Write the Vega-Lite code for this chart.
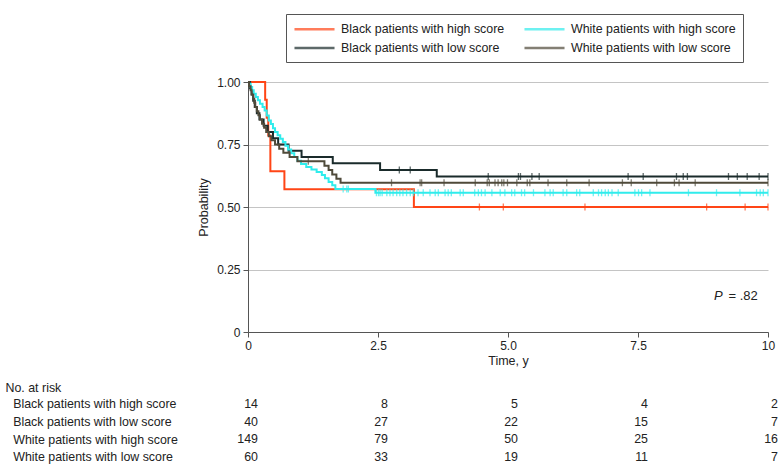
{
  "$schema": "https://vega.github.io/schema/vega-lite/v6.json",
  "padding": {"left": 5, "top": 13, "right": 0, "bottom": 0},
  "config": {
    "font": "Liberation Sans",
    "view": {"stroke": null},
    "axis": {"labelColor": "#222", "titleColor": "#222", "domainColor": "#555", "tickColor": "#555", "titleFontWeight": "normal"}
  },
  "spacing": 14,
  "resolve": {"legend": {"color": "independent"}},
  "datasets": {
    "km": [
      {"g": "Black patients with high score", "t": 0, "p": 1},
      {"g": "Black patients with high score", "t": 0.33, "p": 0.929},
      {"g": "Black patients with high score", "t": 0.36, "p": 0.857},
      {"g": "Black patients with high score", "t": 0.39, "p": 0.786},
      {"g": "Black patients with high score", "t": 0.43, "p": 0.643},
      {"g": "Black patients with high score", "t": 0.70, "p": 0.571},
      {"g": "Black patients with high score", "t": 3.19, "p": 0.5},
      {"g": "Black patients with high score", "t": 10, "p": 0.5},

      {"g": "Black patients with low score", "t": 0, "p": 1},
      {"g": "Black patients with low score", "t": 0.04, "p": 0.975},
      {"g": "Black patients with low score", "t": 0.07, "p": 0.95},
      {"g": "Black patients with low score", "t": 0.10, "p": 0.925},
      {"g": "Black patients with low score", "t": 0.13, "p": 0.9},
      {"g": "Black patients with low score", "t": 0.17, "p": 0.875},
      {"g": "Black patients with low score", "t": 0.22, "p": 0.85},
      {"g": "Black patients with low score", "t": 0.30, "p": 0.825},
      {"g": "Black patients with low score", "t": 0.38, "p": 0.8},
      {"g": "Black patients with low score", "t": 0.48, "p": 0.775},
      {"g": "Black patients with low score", "t": 0.58, "p": 0.75},
      {"g": "Black patients with low score", "t": 0.78, "p": 0.725},
      {"g": "Black patients with low score", "t": 1.03, "p": 0.70},
      {"g": "Black patients with low score", "t": 1.63, "p": 0.675},
      {"g": "Black patients with low score", "t": 2.54, "p": 0.648},
      {"g": "Black patients with low score", "t": 3.63, "p": 0.622},
      {"g": "Black patients with low score", "t": 10, "p": 0.622},

      {"g": "White patients with high score", "t": 0, "p": 1},
      {"g": "White patients with high score", "t": 0.02, "p": 0.993},
      {"g": "White patients with high score", "t": 0.05, "p": 0.98},
      {"g": "White patients with high score", "t": 0.08, "p": 0.967},
      {"g": "White patients with high score", "t": 0.11, "p": 0.953},
      {"g": "White patients with high score", "t": 0.15, "p": 0.94},
      {"g": "White patients with high score", "t": 0.19, "p": 0.927},
      {"g": "White patients with high score", "t": 0.23, "p": 0.913},
      {"g": "White patients with high score", "t": 0.28, "p": 0.9},
      {"g": "White patients with high score", "t": 0.32, "p": 0.886},
      {"g": "White patients with high score", "t": 0.36, "p": 0.866},
      {"g": "White patients with high score", "t": 0.40, "p": 0.846},
      {"g": "White patients with high score", "t": 0.44, "p": 0.832},
      {"g": "White patients with high score", "t": 0.48, "p": 0.815},
      {"g": "White patients with high score", "t": 0.52, "p": 0.80},
      {"g": "White patients with high score", "t": 0.57, "p": 0.787},
      {"g": "White patients with high score", "t": 0.62, "p": 0.773},
      {"g": "White patients with high score", "t": 0.67, "p": 0.76},
      {"g": "White patients with high score", "t": 0.72, "p": 0.745},
      {"g": "White patients with high score", "t": 0.77, "p": 0.73},
      {"g": "White patients with high score", "t": 0.83, "p": 0.715},
      {"g": "White patients with high score", "t": 0.89, "p": 0.70},
      {"g": "White patients with high score", "t": 0.95, "p": 0.685},
      {"g": "White patients with high score", "t": 1.02, "p": 0.672},
      {"g": "White patients with high score", "t": 1.12, "p": 0.66},
      {"g": "White patients with high score", "t": 1.22, "p": 0.65},
      {"g": "White patients with high score", "t": 1.32, "p": 0.64},
      {"g": "White patients with high score", "t": 1.42, "p": 0.628},
      {"g": "White patients with high score", "t": 1.48, "p": 0.615},
      {"g": "White patients with high score", "t": 1.55, "p": 0.60},
      {"g": "White patients with high score", "t": 1.62, "p": 0.587},
      {"g": "White patients with high score", "t": 1.68, "p": 0.572},
      {"g": "White patients with high score", "t": 2.45, "p": 0.557},
      {"g": "White patients with high score", "t": 10, "p": 0.557},

      {"g": "White patients with low score", "t": 0, "p": 1},
      {"g": "White patients with low score", "t": 0.02, "p": 0.983},
      {"g": "White patients with low score", "t": 0.05, "p": 0.967},
      {"g": "White patients with low score", "t": 0.07, "p": 0.95},
      {"g": "White patients with low score", "t": 0.10, "p": 0.933},
      {"g": "White patients with low score", "t": 0.12, "p": 0.917},
      {"g": "White patients with low score", "t": 0.14, "p": 0.90},
      {"g": "White patients with low score", "t": 0.17, "p": 0.883},
      {"g": "White patients with low score", "t": 0.20, "p": 0.867},
      {"g": "White patients with low score", "t": 0.23, "p": 0.85},
      {"g": "White patients with low score", "t": 0.27, "p": 0.833},
      {"g": "White patients with low score", "t": 0.31, "p": 0.817},
      {"g": "White patients with low score", "t": 0.35, "p": 0.80},
      {"g": "White patients with low score", "t": 0.40, "p": 0.783},
      {"g": "White patients with low score", "t": 0.45, "p": 0.767},
      {"g": "White patients with low score", "t": 0.52, "p": 0.75},
      {"g": "White patients with low score", "t": 0.60, "p": 0.733},
      {"g": "White patients with low score", "t": 0.68, "p": 0.717},
      {"g": "White patients with low score", "t": 0.80, "p": 0.70},
      {"g": "White patients with low score", "t": 0.95, "p": 0.683},
      {"g": "White patients with low score", "t": 1.47, "p": 0.665},
      {"g": "White patients with low score", "t": 1.55, "p": 0.648},
      {"g": "White patients with low score", "t": 1.62, "p": 0.630},
      {"g": "White patients with low score", "t": 1.70, "p": 0.613},
      {"g": "White patients with low score", "t": 1.78, "p": 0.597},
      {"g": "White patients with low score", "t": 10, "p": 0.597}
    ],
    "cens": [
      {"g": "Black patients with high score", "t": 4.45, "p": 0.5},
      {"g": "Black patients with high score", "t": 4.91, "p": 0.5},
      {"g": "Black patients with high score", "t": 6.48, "p": 0.5},
      {"g": "Black patients with high score", "t": 8.82, "p": 0.5},
      {"g": "Black patients with high score", "t": 9.56, "p": 0.5},
      {"g": "Black patients with high score", "t": 10, "p": 0.5},

      {"g": "Black patients with low score", "t": 2.91, "p": 0.648},
      {"g": "Black patients with low score", "t": 3.12, "p": 0.648},
      {"g": "Black patients with low score", "t": 4.62, "p": 0.622},
      {"g": "Black patients with low score", "t": 5.20, "p": 0.622},
      {"g": "Black patients with low score", "t": 5.24, "p": 0.622},
      {"g": "Black patients with low score", "t": 5.46, "p": 0.622},
      {"g": "Black patients with low score", "t": 5.60, "p": 0.622},
      {"g": "Black patients with low score", "t": 7.31, "p": 0.622},
      {"g": "Black patients with low score", "t": 7.60, "p": 0.622},
      {"g": "Black patients with low score", "t": 8.24, "p": 0.622},
      {"g": "Black patients with low score", "t": 8.37, "p": 0.622},
      {"g": "Black patients with low score", "t": 8.45, "p": 0.622},
      {"g": "Black patients with low score", "t": 9.24, "p": 0.622},
      {"g": "Black patients with low score", "t": 9.41, "p": 0.622},
      {"g": "Black patients with low score", "t": 9.60, "p": 0.622},
      {"g": "Black patients with low score", "t": 9.83, "p": 0.622},
      {"g": "Black patients with low score", "t": 10, "p": 0.622},

      {"g": "White patients with high score", "t": 1.83, "p": 0.572},
      {"g": "White patients with high score", "t": 1.90, "p": 0.572},
      {"g": "White patients with high score", "t": 1.93, "p": 0.572},
      {"g": "White patients with high score", "t": 2.47, "p": 0.557},
      {"g": "White patients with high score", "t": 2.51, "p": 0.557},
      {"g": "White patients with high score", "t": 2.54, "p": 0.557},
      {"g": "White patients with high score", "t": 2.58, "p": 0.557},
      {"g": "White patients with high score", "t": 2.67, "p": 0.557},
      {"g": "White patients with high score", "t": 2.73, "p": 0.557},
      {"g": "White patients with high score", "t": 2.79, "p": 0.557},
      {"g": "White patients with high score", "t": 2.86, "p": 0.557},
      {"g": "White patients with high score", "t": 2.92, "p": 0.557},
      {"g": "White patients with high score", "t": 2.98, "p": 0.557},
      {"g": "White patients with high score", "t": 3.05, "p": 0.557},
      {"g": "White patients with high score", "t": 3.12, "p": 0.557},
      {"g": "White patients with high score", "t": 3.18, "p": 0.557},
      {"g": "White patients with high score", "t": 3.27, "p": 0.557},
      {"g": "White patients with high score", "t": 3.37, "p": 0.557},
      {"g": "White patients with high score", "t": 3.50, "p": 0.557},
      {"g": "White patients with high score", "t": 3.60, "p": 0.557},
      {"g": "White patients with high score", "t": 3.66, "p": 0.557},
      {"g": "White patients with high score", "t": 3.79, "p": 0.557},
      {"g": "White patients with high score", "t": 3.85, "p": 0.557},
      {"g": "White patients with high score", "t": 3.91, "p": 0.557},
      {"g": "White patients with high score", "t": 4.08, "p": 0.557},
      {"g": "White patients with high score", "t": 4.14, "p": 0.557},
      {"g": "White patients with high score", "t": 4.36, "p": 0.557},
      {"g": "White patients with high score", "t": 4.43, "p": 0.557},
      {"g": "White patients with high score", "t": 4.49, "p": 0.557},
      {"g": "White patients with high score", "t": 4.56, "p": 0.557},
      {"g": "White patients with high score", "t": 4.69, "p": 0.557},
      {"g": "White patients with high score", "t": 4.85, "p": 0.557},
      {"g": "White patients with high score", "t": 4.94, "p": 0.557},
      {"g": "White patients with high score", "t": 5.07, "p": 0.557},
      {"g": "White patients with high score", "t": 5.13, "p": 0.557},
      {"g": "White patients with high score", "t": 5.26, "p": 0.557},
      {"g": "White patients with high score", "t": 5.32, "p": 0.557},
      {"g": "White patients with high score", "t": 5.49, "p": 0.557},
      {"g": "White patients with high score", "t": 5.71, "p": 0.557},
      {"g": "White patients with high score", "t": 5.81, "p": 0.557},
      {"g": "White patients with high score", "t": 5.87, "p": 0.557},
      {"g": "White patients with high score", "t": 6.06, "p": 0.557},
      {"g": "White patients with high score", "t": 6.13, "p": 0.557},
      {"g": "White patients with high score", "t": 6.32, "p": 0.557},
      {"g": "White patients with high score", "t": 6.38, "p": 0.557},
      {"g": "White patients with high score", "t": 6.64, "p": 0.557},
      {"g": "White patients with high score", "t": 6.74, "p": 0.557},
      {"g": "White patients with high score", "t": 6.80, "p": 0.557},
      {"g": "White patients with high score", "t": 6.87, "p": 0.557},
      {"g": "White patients with high score", "t": 6.93, "p": 0.557},
      {"g": "White patients with high score", "t": 7.00, "p": 0.557},
      {"g": "White patients with high score", "t": 7.12, "p": 0.557},
      {"g": "White patients with high score", "t": 7.44, "p": 0.557},
      {"g": "White patients with high score", "t": 7.51, "p": 0.557},
      {"g": "White patients with high score", "t": 7.57, "p": 0.557},
      {"g": "White patients with high score", "t": 7.73, "p": 0.557},
      {"g": "White patients with high score", "t": 8.47, "p": 0.557},
      {"g": "White patients with high score", "t": 9.01, "p": 0.557},
      {"g": "White patients with high score", "t": 9.46, "p": 0.557},
      {"g": "White patients with high score", "t": 9.78, "p": 0.557},
      {"g": "White patients with high score", "t": 9.85, "p": 0.557},
      {"g": "White patients with high score", "t": 9.91, "p": 0.557},
      {"g": "White patients with high score", "t": 10, "p": 0.557},

      {"g": "White patients with low score", "t": 1.16, "p": 0.683},
      {"g": "White patients with low score", "t": 2.76, "p": 0.597},
      {"g": "White patients with low score", "t": 3.31, "p": 0.597},
      {"g": "White patients with low score", "t": 3.34, "p": 0.597},
      {"g": "White patients with low score", "t": 3.77, "p": 0.597},
      {"g": "White patients with low score", "t": 4.37, "p": 0.597},
      {"g": "White patients with low score", "t": 4.60, "p": 0.597},
      {"g": "White patients with low score", "t": 4.64, "p": 0.597},
      {"g": "White patients with low score", "t": 4.75, "p": 0.597},
      {"g": "White patients with low score", "t": 4.81, "p": 0.597},
      {"g": "White patients with low score", "t": 4.88, "p": 0.597},
      {"g": "White patients with low score", "t": 4.92, "p": 0.597},
      {"g": "White patients with low score", "t": 4.99, "p": 0.597},
      {"g": "White patients with low score", "t": 5.17, "p": 0.597},
      {"g": "White patients with low score", "t": 5.37, "p": 0.597},
      {"g": "White patients with low score", "t": 5.42, "p": 0.597},
      {"g": "White patients with low score", "t": 5.77, "p": 0.597},
      {"g": "White patients with low score", "t": 6.13, "p": 0.597},
      {"g": "White patients with low score", "t": 6.56, "p": 0.597},
      {"g": "White patients with low score", "t": 7.20, "p": 0.597},
      {"g": "White patients with low score", "t": 7.37, "p": 0.597},
      {"g": "White patients with low score", "t": 7.86, "p": 0.597},
      {"g": "White patients with low score", "t": 8.20, "p": 0.597},
      {"g": "White patients with low score", "t": 8.29, "p": 0.597},
      {"g": "White patients with low score", "t": 8.60, "p": 0.597},
      {"g": "White patients with low score", "t": 10, "p": 0.597}
    ],
    "risk": [
      {"g": "Black patients with high score", "t": 0, "n": 14},
      {"g": "Black patients with high score", "t": 2.5, "n": 8},
      {"g": "Black patients with high score", "t": 5, "n": 5},
      {"g": "Black patients with high score", "t": 7.5, "n": 4},
      {"g": "Black patients with high score", "t": 10, "n": 2},
      {"g": "Black patients with low score", "t": 0, "n": 40},
      {"g": "Black patients with low score", "t": 2.5, "n": 27},
      {"g": "Black patients with low score", "t": 5, "n": 22},
      {"g": "Black patients with low score", "t": 7.5, "n": 15},
      {"g": "Black patients with low score", "t": 10, "n": 7},
      {"g": "White patients with high score", "t": 0, "n": 149},
      {"g": "White patients with high score", "t": 2.5, "n": 79},
      {"g": "White patients with high score", "t": 5, "n": 50},
      {"g": "White patients with high score", "t": 7.5, "n": 25},
      {"g": "White patients with high score", "t": 10, "n": 16},
      {"g": "White patients with low score", "t": 0, "n": 60},
      {"g": "White patients with low score", "t": 2.5, "n": 33},
      {"g": "White patients with low score", "t": 5, "n": 19},
      {"g": "White patients with low score", "t": 7.5, "n": 11},
      {"g": "White patients with low score", "t": 10, "n": 7}
    ]
  },
  "vconcat": [
    {
      "width": 520,
      "height": 250,
      "layer": [
        {
          "data": {"name": "km"},
          "mark": {"type": "line", "interpolate": "step-after", "strokeWidth": 2},
          "encoding": {
            "x": {"field": "t", "type": "quantitative", "scale": {"domain": [0, 10], "nice": false},
              "axis": {"values": [0, 2.5, 5, 7.5, 10], "labelExpr": "datum.value == 0 ? '0' : datum.value == 10 ? '10' : format(datum.value, '.1f')",
                "grid": false, "tickSize": 5, "labelPadding": 3, "labelFontSize": 12, "labelFlush": false,
                "title": "Time, y", "titleFontSize": 12.5, "titlePadding": 3}},
            "y": {"field": "p", "type": "quantitative", "scale": {"domain": [0, 1], "nice": false},
              "axis": {"values": [0, 0.25, 0.5, 0.75, 1], "labelExpr": "datum.value == 0 ? '0' : format(datum.value, '.2f')",
                "grid": true, "gridColor": "#c4c4c4", "tickSize": 5, "labelPadding": 3, "labelFontSize": 12, "labelFlush": false,
                "title": "Probability", "titleFontSize": 12.5, "titleX": -45, "titleY": 125, "titleAngle": -90,
                "titleAlign": "center", "titleBaseline": "middle", "minExtent": 243}},
            "color": {"field": "g", "type": "nominal",
              "scale": {"domain": ["Black patients with high score", "Black patients with low score", "White patients with high score", "White patients with low score"],
                "range": ["#FF4516", "#1A2B2B", "#30ECEC", "#4F4A3A"]},
              "legend": {"orient": "none", "legendX": 38, "legendY": -68, "columns": 2, "title": null,
                "symbolType": "M-3.08,0H3.08", "symbolSize": 169, "symbolStrokeWidth": 2.5, "symbolOffset": 13.5,
                "labelFontSize": 12.4, "labelLimit": 300, "labelOffset": 18.5, "labelColor": "#222",
                "strokeColor": "#555", "padding": 7, "columnPadding": 14, "rowPadding": 4}}
          }
        },
        {
          "data": {"name": "cens"},
          "mark": {"type": "tick", "orient": "vertical", "size": 7, "thickness": 1.3},
          "encoding": {
            "x": {"field": "t", "type": "quantitative"},
            "y": {"field": "p", "type": "quantitative"},
            "color": {"field": "g", "type": "nominal"}
          }
        },
        {
          "data": {"values": [{}]},
          "mark": {"type": "text", "text": "P", "fontStyle": "italic", "align": "left", "baseline": "middle", "fontSize": 13, "color": "#222"},
          "encoding": {"x": {"datum": 8.96, "type": "quantitative"}, "y": {"datum": 0.143, "type": "quantitative"}}
        },
        {
          "data": {"values": [{}]},
          "mark": {"type": "text", "text": "= .82", "align": "left", "baseline": "middle", "fontSize": 13, "color": "#222"},
          "encoding": {"x": {"datum": 9.24, "type": "quantitative"}, "y": {"datum": 0.143, "type": "quantitative"}}
        }
      ]
    },
    {
      "width": 520,
      "height": 70.8,
      "data": {"name": "risk"},
      "mark": {"type": "text", "align": "right", "dx": 10, "baseline": "middle", "fontSize": 12.4, "color": "#222"},
      "encoding": {
        "x": {"field": "t", "type": "quantitative", "scale": {"domain": [0, 10], "nice": false}, "axis": null},
        "y": {"field": "g", "type": "nominal",
          "sort": ["Black patients with high score", "Black patients with low score", "White patients with high score", "White patients with low score"],
          "scale": {"type": "point", "padding": 0.5},
          "axis": {"title": "No. at risk", "domain": false, "ticks": false, "tickSize": 0, "grid": false,
            "labelAlign": "left", "labelPadding": 235.3, "labelFontSize": 12.4, "labelLimit": 300,
            "titleAngle": 0, "titleAlign": "left", "titleBaseline": "middle", "titleX": -243, "titleY": -8,
            "titleFontSize": 12.4}},
        "text": {"field": "n", "type": "quantitative"}
      }
    }
  ]
}
